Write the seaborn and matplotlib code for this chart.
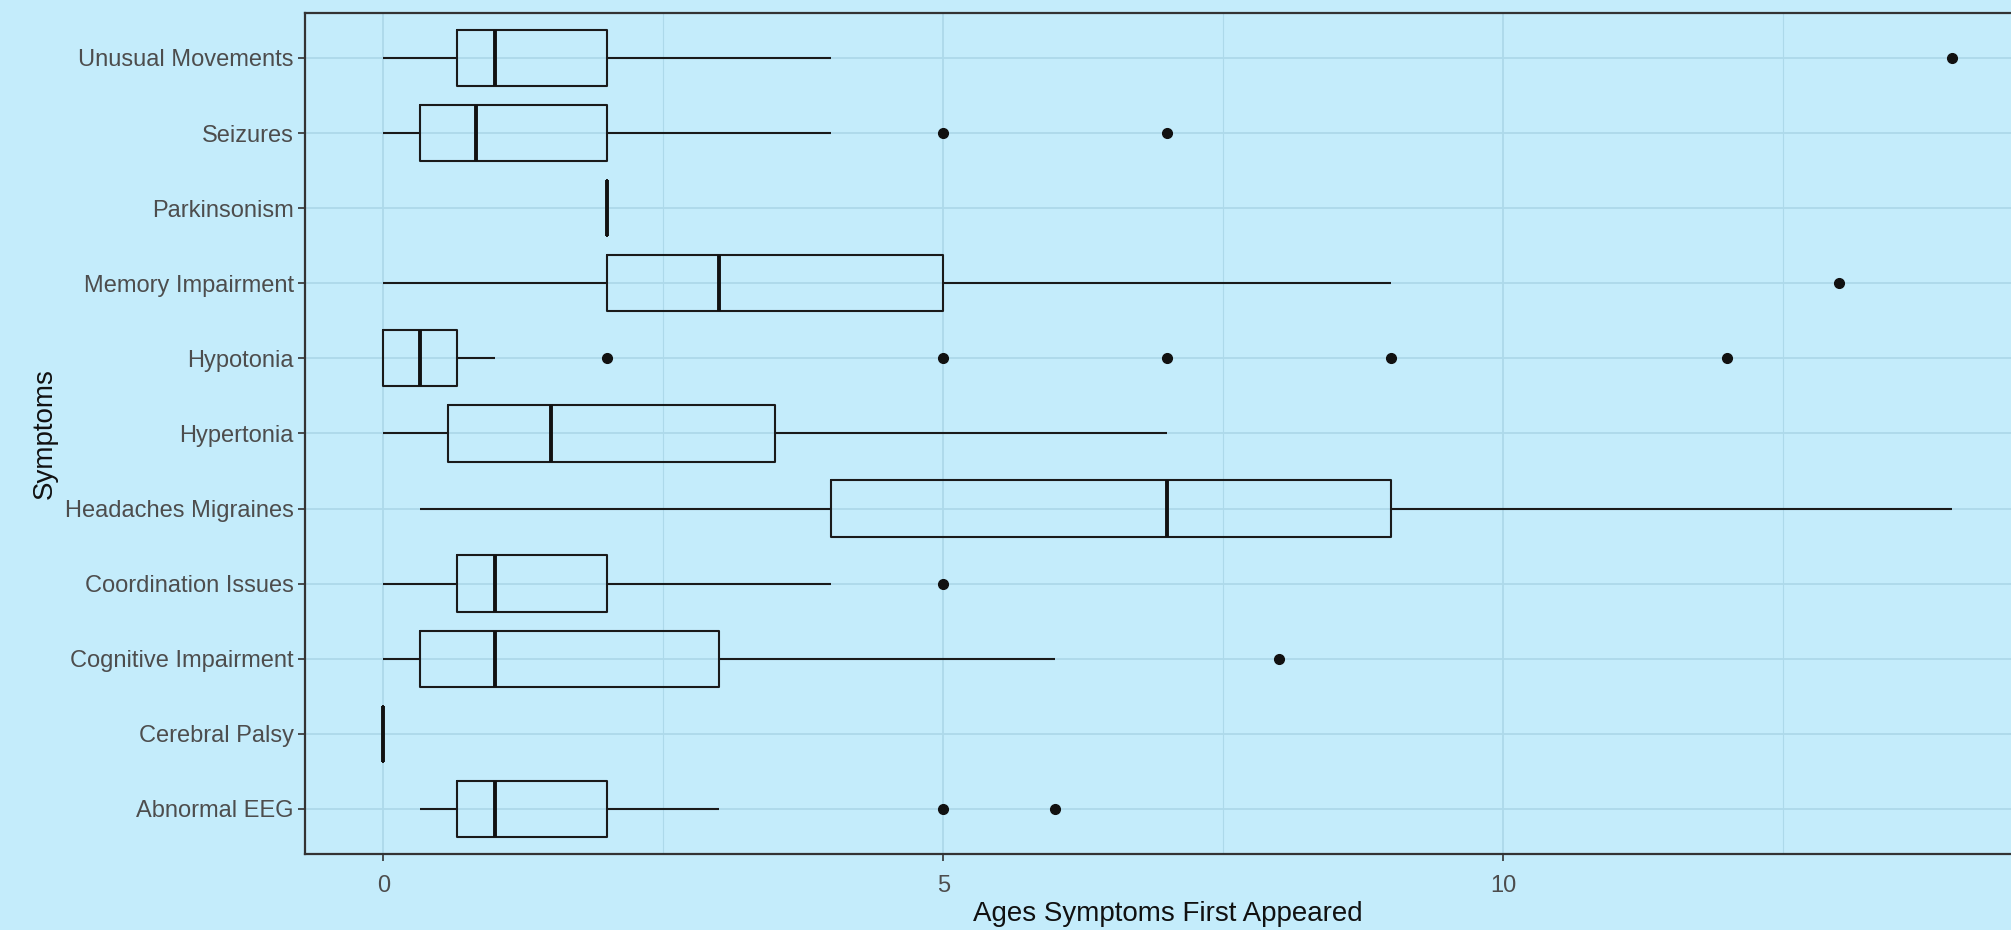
import matplotlib
matplotlib.use('Agg')
import matplotlib.pyplot as plt
from matplotlib.ticker import MultipleLocator
import seaborn as sns
import pandas as pd

# symptom order, top to bottom
symptoms = ['Unusual Movements', 'Seizures', 'Parkinsonism', 'Memory Impairment',
            'Hypotonia', 'Hypertonia', 'Headaches Migraines', 'Coordination Issues',
            'Cognitive Impairment', 'Cerebral Palsy', 'Abnormal EEG']

# ages (years) at which each symptom first appeared
unusual_movements = [0, 0.66, 0.66, 1, 1, 2, 2, 4, 14]
seizures = [0, 0.25, 0.33, 0.33, 0.5, 0.75, 0.83, 1, 2, 2, 4, 5, 7]
parkinsonism = [2]
memory_impairment = [0, 1, 2, 3, 3, 4, 5, 9, 13]
hypotonia = [0, 0, 0, 0, 0, 0, 0, 0.08, 0.17, 0.25, 0.25, 0.33, 0.33,
             0.42, 0.5, 0.5, 0.58, 0.66, 0.66, 1, 2, 5, 7, 9, 12]
hypertonia = [0, 0.5, 0.58, 1, 1.5, 2, 3.5, 5, 7]
headaches_migraines = [0.33, 2, 4, 5, 7, 8, 9, 12, 14]
coordination_issues = [0, 0.66, 0.66, 1, 1, 1.5, 2, 4, 5]
cognitive_impairment = [0, 0.25, 0.33, 0.5, 1, 2, 3, 6, 8]
cerebral_palsy = [0]
abnormal_eeg = [0.33, 0.5, 0.58, 0.66, 0.75, 1, 1, 1.5, 2, 2, 3, 5, 6]

ages = [unusual_movements, seizures, parkinsonism, memory_impairment, hypotonia,
        hypertonia, headaches_migraines, coordination_issues, cognitive_impairment,
        cerebral_palsy, abnormal_eeg]

rows = []
for name, vals in zip(symptoms, ages):
    for v in vals:
        rows.append({'Symptoms': name, 'Age': v})
df = pd.DataFrame(rows)

bg = '#C4ECFB'
grid_col = '#ADD9EA'

sns.set_theme(style='whitegrid')
plt.rcParams['font.family'] = ['Liberation Sans', 'DejaVu Sans']

fig = plt.figure(figsize=(20.11, 9.30), dpi=100, facecolor=bg)
ax = fig.add_axes([0.1517, 0.0817, 0.8577, 0.9045])
ax.set_facecolor(bg)

sns.boxplot(data=df, x='Age', y='Symptoms', order=symptoms, orient='h', ax=ax,
            width=0.75, fill=False, color='#1a1a1a', linewidth=1.5,
            showcaps=False, whis=1.5,
            medianprops=dict(linewidth=2.8, color='#111111'),
            flierprops=dict(marker='o', markerfacecolor='#111111',
                            markeredgecolor='#111111', markersize=7))

ax.set_xlim(-0.7, 14.7)
ax.set_ylim(len(symptoms) - 0.4, -0.6)
ax.xaxis.set_major_locator(MultipleLocator(5))
ax.xaxis.set_minor_locator(MultipleLocator(2.5))
ax.grid(True, which='major', axis='both', color=grid_col, linewidth=1.3)
ax.grid(True, which='minor', axis='x', color=grid_col, linewidth=0.8)
ax.set_axisbelow(True)

for s in ax.spines.values():
    s.set_visible(True)
    s.set_color('#333333')
    s.set_linewidth(1.6)

ax.tick_params(axis='both', which='major', length=5, width=1.2, color='#333333',
               labelsize=17, labelcolor='#4D4D4D', pad=3, bottom=True, left=True)
ax.tick_params(axis='x', which='major', pad=10)
ax.tick_params(axis='x', which='minor', length=0)
ax.set_xlabel('Ages Symptoms First Appeared', fontsize=20, color='#111111', labelpad=3)
ax.set_ylabel('Symptoms', fontsize=20, color='#111111', labelpad=5)

plt.savefig('out.png', dpi=100, facecolor=bg)
